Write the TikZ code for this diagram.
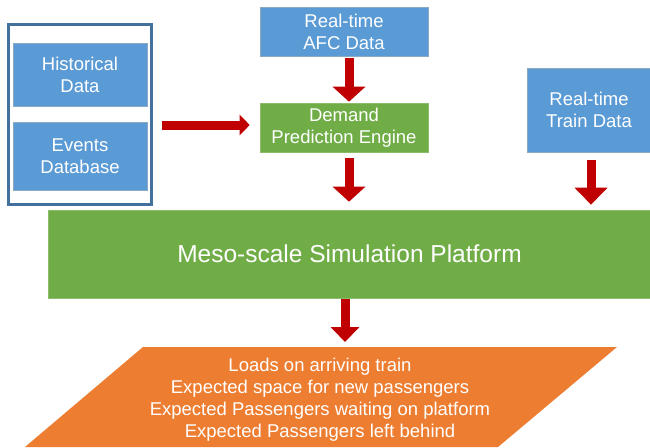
\documentclass[tikz,border=0pt]{standalone}
\usepackage{fontspec}
\setmainfont{Liberation Sans}
\usepackage{tikz}
\usetikzlibrary{positioning}
\usetikzlibrary{arrows.meta}
\usepackage{xcolor}
\definecolor{boxblue}{HTML}{5B9BD5}
\definecolor{edgeblue}{HTML}{41719C}
\definecolor{boxgreen}{HTML}{70AD47}
\definecolor{boxorange}{HTML}{ED7D31}
\definecolor{arrred}{HTML}{C00000}

\begin{document}
\begin{tikzpicture}[x=1pt,y=-1pt,
			Src/.style={rectangle,draw=edgeblue!60,line width=0.6pt,fill=boxblue,text=white,align=center,inner sep=0pt,font=\fontsize{18.5}{22}\selectfont},
			Eng/.style={rectangle,draw=boxgreen!80!white,line width=0.6pt,fill=boxgreen,text=white,align=center,inner sep=0pt},
			Arr/.style={draw=arrred,line width=9pt,-{Triangle[width=32pt,length=15pt]}},
			]

			%clip
			\useasboundingbox (0,0) rectangle (650,447);
			\clip (0,0) rectangle (650,447);

			%stored data
			\node[Src,minimum width=134pt,minimum height=63pt] (hist) at (80,74.5) {Historical\\Data};
			\node[Src,minimum width=134pt,minimum height=68pt] (events) [below=16pt of hist] {Events\\Database};
			\node[rectangle,draw=edgeblue,line width=3pt,minimum width=143pt,minimum height=180pt] (store) at (79.5,114) {};

			%real-time inputs
			\node[Src,minimum width=168pt,minimum height=49pt] (afc) at (344,31.5) {Real-time\\AFC Data};
			\node[Src,minimum width=124pt,minimum height=84pt] (train) at (589,110) {Real-time\\Train Data};

			%engines
			\node[Eng,minimum width=168pt,minimum height=49pt,font=\fontsize{18.5}{22}\selectfont] (demand) at (344,127.5) {Demand\\Prediction Engine};
			\node[Eng,minimum width=603pt,minimum height=88pt,font=\fontsize{24.5}{28}\selectfont] (meso) at (349.5,254) {Meso-scale Simulation Platform};

			%outputs
			\fill[boxorange] (143,347) -- (617,347) -- (498,447) -- (25,447) -- cycle;
			\node[text=white,align=center,font=\fontsize{18.5}{22}\selectfont] (output) at (320,400)
				{Loads on arriving train\\Expected space for new passengers\\Expected Passengers waiting on platform\\Expected Passengers left behind};
			\coordinate (outtop) at (345,347);

			%arrows
			\draw[Arr,-{Triangle[width=20pt,length=10pt]},shorten <=9pt,shorten >=10pt] (store.east |- 0,125) -- (demand.west |- 0,125);
			\draw[Arr,shorten <=2pt,shorten >=1pt] ([xshift=5pt]afc.south) -- ([xshift=5pt]demand.north);
			\draw[Arr,shorten <=6pt,shorten >=8pt] ([xshift=5pt]demand.south) -- ([xshift=5pt]demand.south |- meso.north);
			\draw[Arr,-{Triangle[width=32pt,length=17pt]},shorten <=8pt,shorten >=5pt] ([xshift=2pt]train.south) -- ([xshift=2pt]train.south |- meso.north);
			\draw[Arr,-{Triangle[width=28pt,length=15pt]},shorten <=1pt,shorten >=5pt] (meso.south -| outtop) -- (outtop);

	\end{tikzpicture}
\end{document}
